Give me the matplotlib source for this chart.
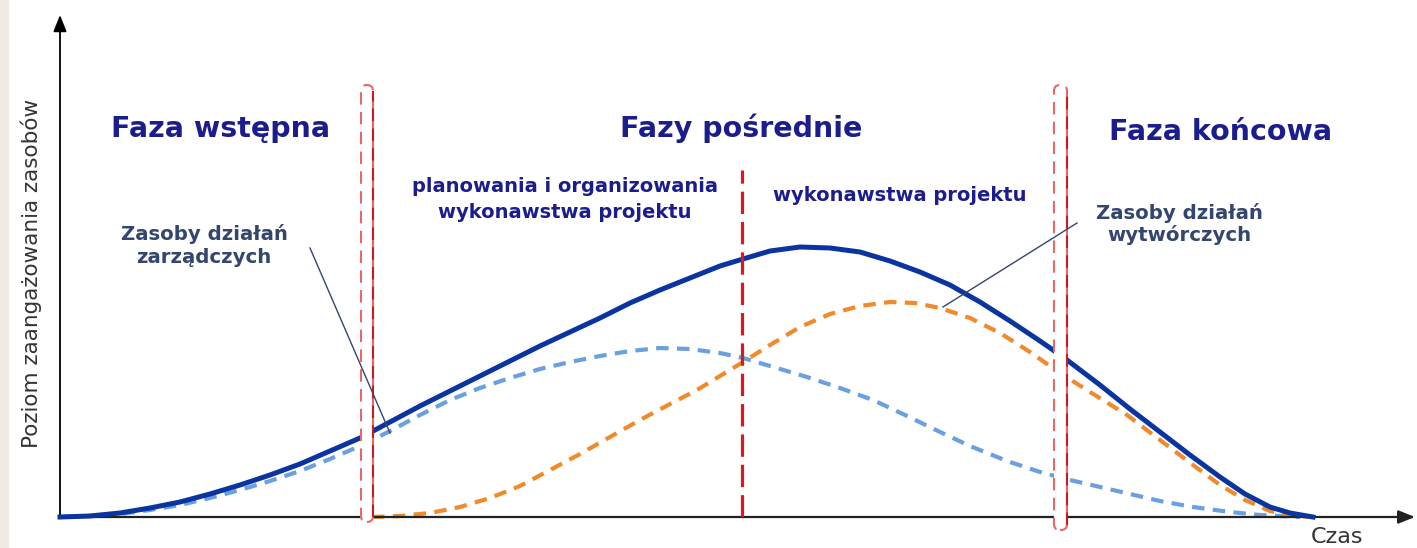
import matplotlib
matplotlib.use("Agg")
import matplotlib.pyplot as plt
from matplotlib.patches import FancyBboxPatch, Rectangle

plt.rcParams['font.family'] = ['DejaVu Sans']

# resource curves (time units 0-1355, level units 0-502)
t_total = [0, 30, 60, 90, 120, 150, 180, 210, 240, 270, 300, 330, 360, 390,
           420, 450, 480, 510, 540, 570, 600, 630, 660, 683, 710, 740, 770,
           800, 830, 860, 890, 920, 950, 980, 993, 1007, 1040, 1070, 1100,
           1130, 1160, 1185, 1210, 1230, 1253]
v_total = [0, 1, 4, 9, 15, 23, 32, 42, 53, 66, 79, 95, 111, 126,
           141, 156, 171, 185, 199, 214, 227, 239, 251, 258, 266, 270, 269,
           265, 256, 245, 232, 215, 196, 176, 167, 157, 132, 108, 85,
           62, 40, 23, 10, 4, 0]

t_mgmt = [0, 30, 60, 90, 120, 150, 180, 210, 240, 270, 300, 330, 360, 390,
          420, 450, 480, 510, 540, 570, 600, 630, 660, 683, 710, 747, 780,
          813, 845, 880, 910, 947, 980, 1010, 1040, 1070, 1100, 1133, 1170,
          1200, 1240]
v_mgmt = [0, 1, 3, 7, 12, 19, 27, 36, 46, 58, 71, 86, 102, 117,
          129, 139, 148, 155, 161, 166, 169, 168, 164, 159, 151, 140, 129,
          117, 102, 85, 71, 56, 45, 37, 30, 23, 16, 10, 5,
          2, 0]

t_prod = [312, 340, 370, 400, 430, 460, 490, 520, 550, 580, 610, 637, 660,
          683, 710, 740, 770, 800, 830, 855, 880, 910, 940, 970, 997, 1030,
          1067, 1100, 1133, 1160, 1185, 1210, 1233, 1253]
v_prod = [0, 1, 4, 10, 19, 31, 47, 63, 80, 97, 113, 127, 141,
          155, 172, 190, 203, 211, 215, 214, 209, 199, 184, 165, 146, 125,
          102, 77, 52, 32, 17, 6, 1, 0]

# phase borders (time units)
left_border = (301, 313)
right_border = (994, 1007)
mid_border = 682

navy = '#1c1d8c'
slate = '#34466e'

fig = plt.figure(figsize=(14.17, 5.48), dpi=100)
fig.patches.append(Rectangle((0, 0), 8 / 1417, 1, transform=fig.transFigure,
                             color='#f2ebe3', zorder=0))
ax = fig.add_axes([60 / 1417, 31 / 548, 1355 / 1417, 502 / 548])
ax.set_xlim(0, 1355)
ax.set_ylim(0, 502)
ax.axis('off')

# axes with arrows
ax.annotate('', xy=(0, 502), xytext=(0, -1), annotation_clip=False,
            arrowprops=dict(arrowstyle='-|>,head_length=1.0,head_width=0.4',
                            lw=1.3, color='black', shrinkA=0, shrinkB=0))
ax.annotate('', xy=(1355, 0), xytext=(0, 0), annotation_clip=False,
            arrowprops=dict(arrowstyle='-|>,head_length=1.0,head_width=0.4',
                            lw=1.6, color='#222222', shrinkA=0, shrinkB=0))

# curves
ax.plot(t_mgmt, v_mgmt, color='#6a9fe0', lw=3, dashes=(3, 2), zorder=2,
        clip_on=False)
ax.plot(t_prod, v_prod, color='#f08a2a', lw=3, dashes=(3, 2), zorder=2,
        clip_on=False)
ax.plot(t_total, v_total, color='#0a35a0', lw=3.6, zorder=3,
        solid_joinstyle='round', clip_on=False)

# phase brackets
for (x0, x1), bottom in [(left_border, -5), (right_border, -13)]:
    box = FancyBboxPatch((x0, bottom), x1 - x0, 432 - bottom,
                         boxstyle='round,pad=0,rounding_size=6',
                         facecolor='white', edgecolor='#e26a6a', lw=1.5,
                         ls=(0, (6, 3.5)), zorder=4, clip_on=False)
    ax.add_patch(box)
    ax.plot([x1, x1], [bottom + 5, 426], color='#d2161e', lw=1.5,
            dashes=(6, 3.5), zorder=5, clip_on=False)

ax.plot([mid_border, mid_border], [0, 347], color='#d71920', lw=2.3,
        dashes=(7, 2.5), zorder=5)

# phase titles
for txt, x, y in [('Faza wstępna', 161, 380), ('Fazy pośrednie', 681, 380),
                  ('Faza końcowa', 1161, 377)]:
    ax.text(x, y, txt, ha='center', va='baseline', fontsize=20.5,
            fontweight='bold', color=navy)

for txt, x, y in [('planowania i organizowania', 505, 325),
                  ('wykonawstwa projektu', 505, 299),
                  ('wykonawstwa projektu', 840, 316)]:
    ax.text(x, y, txt, ha='center', va='baseline', fontsize=14,
            fontweight='bold', color=navy)

for txt, x, y in [('Zasoby działań', 144, 277), ('zarządczych', 144, 254),
                  ('Zasoby działań', 1119, 298), ('wytwórczych', 1119, 276)]:
    ax.text(x, y, txt, ha='center', va='baseline', fontsize=14.2,
            fontweight='bold', color=slate)

# leader lines
ax.plot([250, 330], [269, 84], color=slate, lw=1.0, zorder=6, clip_on=False)
ax.plot([1017, 883], [294, 210], color=slate, lw=1.0, zorder=6, clip_on=False)

fig.text(31 / 1417, 275 / 548, 'Poziom zaangażowania zasobów', rotation=90,
         ha='center', va='center', fontsize=15.5, color='#333333')
fig.text(1337 / 1417, 5 / 548, 'Czas', ha='center', va='baseline',
         fontsize=16, color='#333333')

fig.savefig('out.png', dpi=100, facecolor='white')
